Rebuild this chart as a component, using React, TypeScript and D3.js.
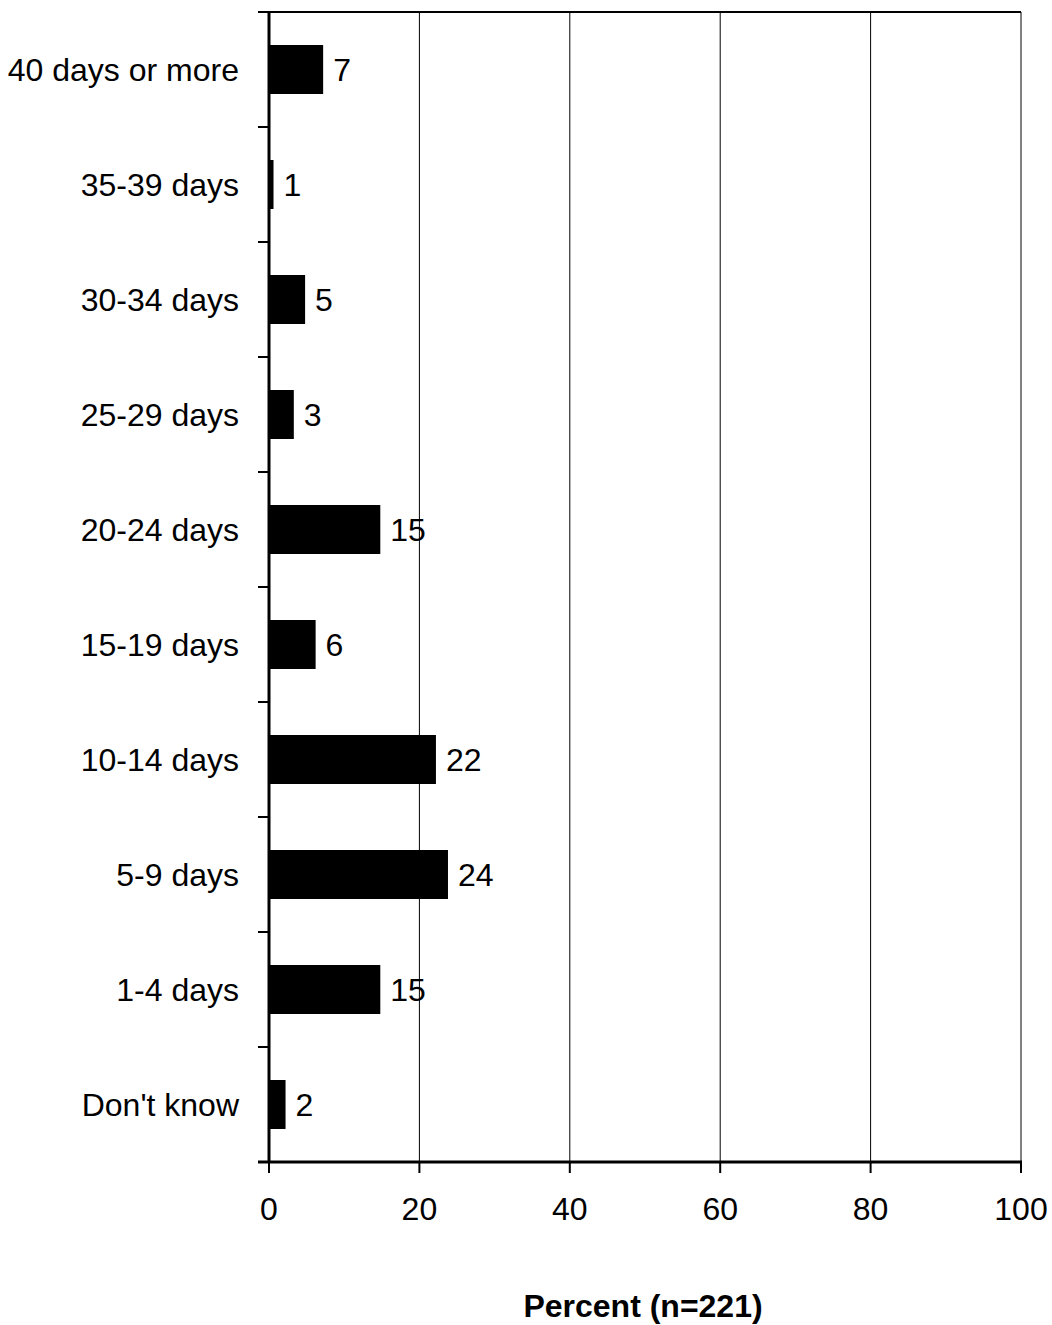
import React from "react";
import * as d3 from "d3";

const categories = [
  "40 days or more",
  "35-39 days",
  "30-34 days",
  "25-29 days",
  "20-24 days",
  "15-19 days",
  "10-14 days",
  "5-9 days",
  "1-4 days",
  "Don't know",
];
const values = [7.2, 0.6, 4.8, 3.3, 14.8, 6.2, 22.2, 23.8, 14.8, 2.2];
const labels = ["7", "1", "5", "3", "15", "6", "22", "24", "15", "2"];
const xTicks = [0, 20, 40, 60, 80, 100];
const axisTitle = "Percent (n=221)";

const W = 1052;
const H = 1325;
const left = 269;
const right = 1021;
const top = 12;
const bottom = 1162;
const font = "Arial, 'Liberation Sans', sans-serif";

export default function App() {
  const x = d3.scaleLinear().domain([0, 100]).range([left, right]);
  const y = d3.scaleBand<string>().domain(categories).range([top, bottom]).paddingInner(0.574).paddingOuter(0.287);
  const band = d3.scaleBand<string>().domain(categories).range([top, bottom]);
  const boundaries = d3.range(categories.length + 1).map((i) => top + i * band.step());

  return (
    <svg width={W} height={H} style={{ position: "absolute", left: 0, top: 0 }}>
      <rect x={0} y={0} width={W} height={H} fill="#fff" />
      {/* top border */}
      <line x1={left - 11} x2={right} y1={top} y2={top} stroke="#000" strokeWidth={2} />
      {/* gridlines */}
      {xTicks.filter((t) => t > 0).map((t) => (
        <line key={t} x1={x(t)} x2={x(t)} y1={top} y2={bottom} stroke="#000" strokeWidth={1} />
      ))}
      {/* bars */}
      {categories.map((c, i) => (
        <g key={c}>
          <rect x={x(0)} y={y(c)} width={x(values[i]) - x(0)} height={y.bandwidth()} fill="#000" />
          <text
            x={x(values[i]) + 10}
            y={(y(c) as number) + y.bandwidth() / 2}
            dy="0.35em"
            fontFamily={font}
            fontSize={32}
            fill="#000"
          >
            {labels[i]}
          </text>
          <text
            x={239}
            y={(band(c) as number) + band.bandwidth() / 2}
            dy="0.35em"
            textAnchor="end"
            fontFamily={font}
            fontSize={32}
            fill="#000"
          >
            {c}
          </text>
        </g>
      ))}
      {/* left axis */}
      <line x1={left} x2={left} y1={top} y2={bottom + 1} stroke="#000" strokeWidth={3} />
      {boundaries.map((b, i) => (
        <line key={i} x1={left - 11} x2={left} y1={b} y2={b} stroke="#000" strokeWidth={2} />
      ))}
      {/* bottom axis */}
      <line x1={left - 11} x2={right + 1} y1={bottom} y2={bottom} stroke="#000" strokeWidth={3} />
      {xTicks.map((t) => (
        <g key={t}>
          <line x1={x(t)} x2={x(t)} y1={bottom} y2={bottom + 11} stroke="#000" strokeWidth={2} />
          <text x={x(t)} y={1209} dy="0.35em" textAnchor="middle" fontFamily={font} fontSize={32} fill="#000">
            {t}
          </text>
        </g>
      ))}
      <text
        x={643}
        y={1317}
        textAnchor="middle"
        fontFamily={font}
        fontSize={32}
        fontWeight="bold"
        fill="#000"
      >
        {axisTitle}
      </text>
    </svg>
  );
}
